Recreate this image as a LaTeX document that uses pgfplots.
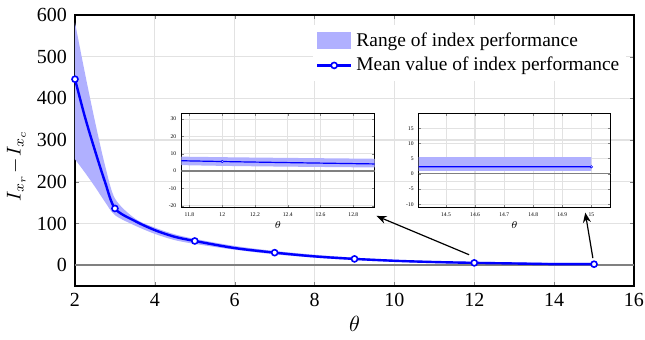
\documentclass[border=0pt]{standalone}
\usepackage{pgfplots}
\pgfplotsset{compat=1.18}
\usepackage{pgfplotstable}
\usepgfplotslibrary{fillbetween}
\usetikzlibrary{arrows.meta}
\usepackage{fontspec}
\setmainfont{Liberation Serif}
\definecolor{bandc}{RGB}{176,176,255}
\definecolor{gridc}{RGB}{226,226,226}

\pgfplotstableread{
t upper lower mean
2    582 254 446
2.25 460 222 355
2.5  345 188 275
2.75 240 152 200
3    160 120 136
3.5  112  95 106
4     90  75  84
4.5   74  60  68
5     63  51  58
6     46  37  41
7     34  26  30
8     25  18  21
9     18  12  15
10    13   8 10.5
11   9.5   5 7.5
12     8   3 5.5
13     7   2 4.0
14   5.6 1.0 2.5
15   5.5 1.0 2.3
}\band

\pgfplotstableread{
t mean
2  446
3  136
5  58
7  30
9  15
12 5.5
15 2.3
}\pts

\pgfplotsset{
  commonstyle/.style={
    scale only axis,
    axis line style={black, line width=0.6pt},
    tick align=inside,
    tick pos=both,
    grid=major,
    major grid style={gridc, line width=0.6pt},
    /pgf/number format/assume math mode=true,
  }
}

\begin{document}
\begin{tikzpicture}
\begin{axis}[commonstyle,
  width=279.5pt, height=135.5pt,
  xmin=2, xmax=16, ymin=-50, ymax=600,
  xtick={2,4,...,16}, ytick={0,100,...,600},
  major tick length=2.2pt,
  ticklabel style={font=\fontsize{10}{11}\selectfont},
  yticklabel style={xshift=-0.5pt},
  xlabel={$\theta$}, ylabel={$I_{x_r}\!-\!I_{x_c}$},
  xlabel style={font=\fontsize{10.5}{11}\selectfont, yshift=2pt},
  ylabel style={font=\fontsize{9.8}{10}\selectfont, at={(axis description cs:-0.105,0.443)}, anchor=center},
  legend style={at={(0.987,0.963)}, anchor=north east, draw=none, fill=white,
    font=\fontsize{9.7}{11.5}\selectfont, inner sep=1.5pt,
    row sep=0pt},
  legend cell align=left,
]
\addplot[gray, line width=1pt, forget plot] coordinates {(2,0) (16,0)};
\addplot[name path=up, draw=none, smooth, forget plot] table[x=t, y=upper] {\band};
\addplot[name path=lo, draw=none, smooth, forget plot] table[x=t, y=lower] {\band};
\addplot[bandc, draw=none,
  legend image code/.code={\fill[bandc] (0cm,-0.15cm) rectangle (0.6cm,0.15cm);}]
  fill between[of=up and lo];
\addlegendentry{Range of index performance}
\addplot[blue, line width=1.2pt, smooth, forget plot] table[x=t, y=mean] {\band};
\addplot[only marks, mark=*, mark size=1.5pt, mark options={fill=white, draw=blue, line width=0.8pt}, forget plot]
  table[x=t, y=mean] {\pts};
\addlegendimage{blue, line width=1.2pt, mark=*, mark size=1.5pt, mark options={fill=white, draw=blue, line width=0.8pt}}
\addlegendentry{Mean value of index performance}
\coordinate (a1s) at (axis cs:11.87,25);
\coordinate (a1e) at (axis cs:9.55,118);
\coordinate (a2s) at (axis cs:14.97,17);
\coordinate (a2e) at (axis cs:14.78,126);
\end{axis}

% inset 1
\begin{axis}[commonstyle,
  at={(53.15pt,39.35pt)}, anchor=south west,
  width=96.7pt, height=47pt,
  xmin=11.75, xmax=12.93, ymin=-20.9, ymax=33.3,
  xtick={11.8,12,...,12.8}, ytick={-20,-10,...,30},
  major tick length=1.2pt,
  axis line style={black, line width=0.5pt},
  major grid style={gridc, line width=0.4pt},
  axis background/.style={fill=white},
  ticklabel style={font=\fontsize{2.8}{3}\selectfont},
  xticklabel style={/pgf/number format/fixed, /pgf/number format/precision=1, yshift=1pt},
  yticklabel style={xshift=1pt},
  xlabel={$\theta$}, xlabel style={font=\fontsize{3}{3}\selectfont, yshift=4pt},
  clip=true,
]
\addplot[gray, line width=0.6pt] coordinates {(11 ,0) (16,0)};
\addplot[name path=up, draw=none, smooth] table[x=t, y=upper] {\band};
\addplot[name path=lo, draw=none, smooth] table[x=t, y=lower] {\band};
\addplot[bandc] fill between[of=up and lo];
\addplot[blue, line width=0.6pt, smooth] table[x=t, y=mean] {\band};
\addplot[only marks, mark=*, mark size=0.6pt, mark options={fill=white, draw=blue, line width=0.3pt}]
  table[x=t, y=mean] {\pts};
\end{axis}

% inset 2
\begin{axis}[commonstyle,
  at={(171.85pt,39.35pt)}, anchor=south west,
  width=95.8pt, height=47pt,
  xmin=14.406, xmax=15.065, ymin=-11, ymax=19.9,
  xtick={14.5,14.6,...,15}, ytick={-10,-5,...,15},
  major tick length=1.2pt,
  axis line style={black, line width=0.5pt},
  major grid style={gridc, line width=0.4pt},
  axis background/.style={fill=white},
  ticklabel style={font=\fontsize{2.8}{3}\selectfont},
  xticklabel style={/pgf/number format/fixed, /pgf/number format/precision=1, yshift=1pt},
  yticklabel style={xshift=1pt},
  xlabel={$\theta$}, xlabel style={font=\fontsize{3}{3}\selectfont, yshift=4pt},
  clip=true,
]
\addplot[gray, line width=0.6pt] coordinates {(14 ,0) (16,0)};
\addplot[name path=up, draw=none, smooth] table[x=t, y=upper] {\band};
\addplot[name path=lo, draw=none, smooth] table[x=t, y=lower] {\band};
\addplot[bandc] fill between[of=up and lo];
\addplot[blue, line width=0.6pt, smooth] table[x=t, y=mean] {\band};
\addplot[only marks, mark=*, mark size=0.6pt, mark options={fill=white, draw=blue, line width=0.3pt}]
  table[x=t, y=mean] {\pts};
\end{axis}

\draw[black, line width=0.6pt, -{Stealth[length=5pt, width=4pt]}] (a1s) -- (a1e);
\draw[black, line width=0.6pt, -{Stealth[length=5pt, width=4pt]}] (a2s) -- (a2e);

\pgfresetboundingbox
\path[use as bounding box] (-37.5pt,-26.5pt) rectangle (285pt,143pt);
\end{tikzpicture}
\end{document}
